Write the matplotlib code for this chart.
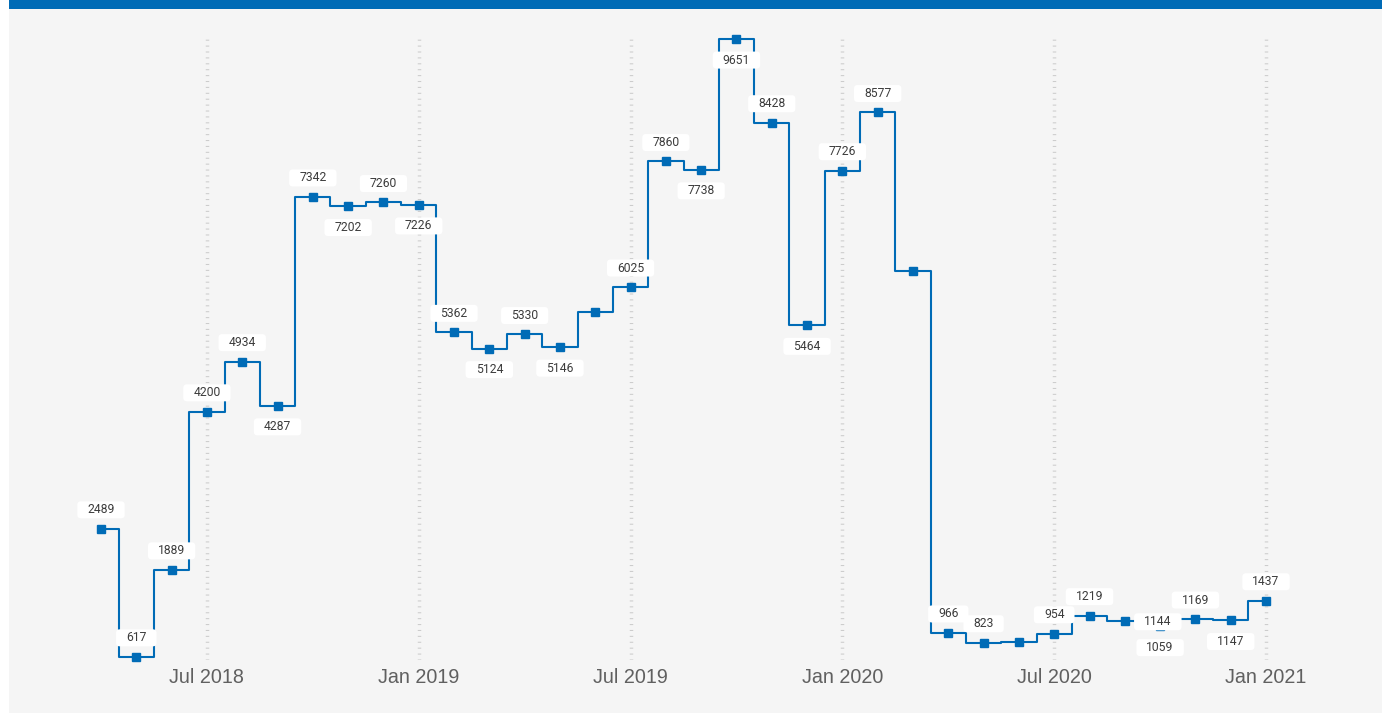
import matplotlib
matplotlib.use("Agg")
import matplotlib.pyplot as plt
from matplotlib.patches import Rectangle, BoxStyle

# ---- data ----
months = ["Apr 2018", "May 2018", "Jun 2018", "Jul 2018", "Aug 2018", "Sep 2018",
          "Oct 2018", "Nov 2018", "Dec 2018", "Jan 2019", "Feb 2019", "Mar 2019",
          "Apr 2019", "May 2019", "Jun 2019", "Jul 2019", "Aug 2019", "Sep 2019",
          "Oct 2019", "Nov 2019", "Dec 2019", "Jan 2020", "Feb 2020", "Mar 2020",
          "Apr 2020", "May 2020", "Jun 2020", "Jul 2020", "Aug 2020", "Sep 2020",
          "Oct 2020", "Nov 2020", "Dec 2020", "Jan 2021"]
values = [2489, 617, 1889, 4200, 4934, 4287, 7342, 7202, 7260, 7226, 5362, 5124,
          5330, 5146, 5662, 6025, 7860, 7738, 9651, 8428, 5464, 7726, 8577, 6260,
          966, 823, 838, 954, 1219, 1144, 1059, 1169, 1147, 1437]
# label placement: 'a' above, 'b' below, 'r' right, '' none
label_pos = ['a', 'a', 'a', 'a', 'a', 'b', 'a', 'b', 'a', 'b', 'a', 'b',
             'a', 'b', '', 'a', 'a', 'b', 'b', 'a', 'b', 'a', 'a', '',
             'a', 'a', '', 'a', 'a', 'r', 'b', 'a', 'b', 'a']
tick_labels = ["Jul 2018", "Jan 2019", "Jul 2019", "Jan 2020", "Jul 2020", "Jan 2021"]

BLUE = '#006bb6'
W, H = 1385, 713
fig = plt.figure(figsize=(W / 100, H / 100), dpi=100)
fig.patch.set_facecolor('white')
fig.add_artist(Rectangle((9 / W, 0), (1382 - 9) / W, 1, transform=fig.transFigure,
                         facecolor='#f5f5f5', edgecolor='none', zorder=0))
fig.add_artist(Rectangle((9 / W, (H - 9) / H), (1382 - 9) / W, 9 / H, transform=fig.transFigure,
                         facecolor=BLUE, edgecolor='none', zorder=0))

ax = fig.add_axes([0, (H - 660) / H, 1, (660 - 35) / H])
ax.patch.set_alpha(0)
for s in ax.spines.values():
    s.set_visible(False)

x = list(range(len(values)))
ax.plot(x, values, drawstyle='steps-mid', color=BLUE, lw=1.5, marker='s', ms=6,
        mfc=BLUE, mec=BLUE, clip_on=False, zorder=3)

ax.set_xlim(-2.861, 36.37)
ax.set_ylim(569, 9709)

tick_idx = [months.index(t) for t in tick_labels]
ax.set_xticks(tick_idx)
ax.set_xticklabels(tick_labels, fontsize=14.2, color='#606060', family='Liberation Sans')
ax.tick_params(axis='x', length=0, pad=5.5)
ax.set_yticks([])
ax.grid(axis='x', color='#cccccc', lw=2.5, linestyle=(0, (0.3, 1.4)), dash_capstyle='butt')
ax.set_axisbelow(True)


def fixed_box(x0, y0, width, height, mutation_size):
    cx = x0 + width / 2
    cy = y0 + height / 2
    bw = width + 20
    bh = 17
    return BoxStyle.Round(pad=0, rounding_size=0.3)(cx - bw / 2, cy - bh / 2, bw, bh, mutation_size)


offsets = {'a': (0, 20), 'b': (0, -20), 'r': (33, 0)}
for i, (v, p) in enumerate(zip(values, label_pos)):
    if not p:
        continue
    dx, dy = offsets[p]
    ax.annotate(str(v), (i, v), xytext=(dx * 0.72, dy * 0.72 - 0.8), textcoords='offset points',
                ha='center', va='center', fontsize=8.7, family='Roboto',
                color='#3c3c3c',
                bbox=dict(boxstyle=fixed_box, facecolor='white', edgecolor='none'),
                zorder=5, annotation_clip=False)

fig.savefig('out.png', dpi=100)
